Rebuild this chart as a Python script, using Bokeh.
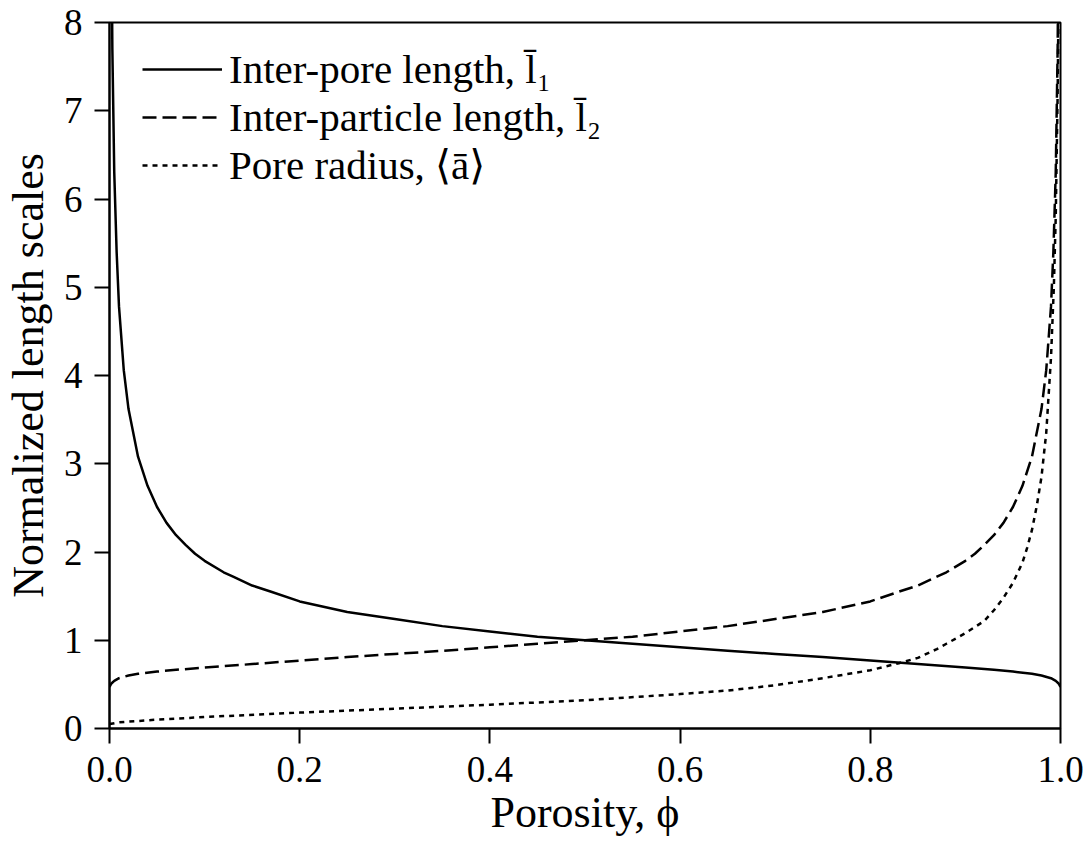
from bokeh.plotting import figure
from bokeh.models import Legend, LegendItem, FixedTicker, NumeralTickFormatter, Range1d
from bokeh.embed import file_html
from bokeh.resources import INLINE

# --- data ---
phi_l1 = [0.0015, 0.002, 0.003, 0.005, 0.0075, 0.01, 0.015, 0.02, 0.03, 0.04, 0.05, 0.06,
          0.07, 0.08, 0.09, 0.1, 0.12, 0.13, 0.15, 0.17, 0.2, 0.25, 0.3, 0.35, 0.4, 0.45,
          0.5, 0.55, 0.6, 0.65, 0.7, 0.75, 0.8, 0.85, 0.9, 0.93, 0.95, 0.97, 0.98, 0.99,
          0.995, 0.998, 1.0]
l1 = [10.0, 9.2, 7.7, 6.3, 5.4, 4.78, 4.06, 3.62, 3.08, 2.75, 2.51, 2.33,
      2.19, 2.08, 1.98, 1.90, 1.77, 1.72, 1.62, 1.55, 1.44, 1.32, 1.24, 1.16, 1.10, 1.04,
      1.00, 0.96, 0.92, 0.88, 0.845, 0.81, 0.77, 0.73, 0.69, 0.665, 0.645, 0.62, 0.60, 0.57,
      0.54, 0.51, 0.47]

phi_l2 = [0.0, 0.002, 0.005, 0.01, 0.02, 0.03, 0.05, 0.07, 0.1, 0.15, 0.2, 0.25, 0.3,
          0.35, 0.4, 0.45, 0.5, 0.55, 0.6, 0.65, 0.7, 0.75, 0.8, 0.83, 0.85, 0.87, 0.88,
          0.9, 0.91, 0.92, 0.93, 0.94, 0.95, 0.96, 0.97, 0.98, 0.985, 0.99, 0.9925, 0.995,
          0.997, 0.998, 0.9985]
l2 = [0.47, 0.51, 0.54, 0.57, 0.60, 0.62, 0.645, 0.665, 0.69, 0.73, 0.77, 0.81, 0.845,
      0.88, 0.92, 0.96, 1.00, 1.04, 1.10, 1.16, 1.24, 1.32, 1.44, 1.55, 1.62, 1.72, 1.77,
      1.90, 1.98, 2.08, 2.19, 2.33, 2.51, 2.75, 3.08, 3.62, 4.06, 4.78, 5.4, 6.3,
      7.7, 9.2, 10.0]

phi_a = [0.0, 0.01, 0.05, 0.1, 0.2, 0.3, 0.4, 0.5, 0.6, 0.65, 0.7, 0.75, 0.8, 0.83, 0.85,
         0.87, 0.88, 0.9, 0.91, 0.92, 0.93, 0.94, 0.95, 0.96, 0.965, 0.97, 0.975, 0.98,
         0.985, 0.99, 0.993, 0.995, 0.997, 0.998, 0.999]
a_mean = [0.05, 0.07, 0.10, 0.13, 0.18, 0.225, 0.27, 0.32, 0.39, 0.43, 0.49, 0.57, 0.66, 0.74,
          0.80, 0.90, 0.96, 1.08, 1.15, 1.22, 1.34, 1.48, 1.65, 1.88, 2.05, 2.25, 2.52, 2.85,
          3.35, 4.2, 5.0, 5.8, 7.2, 8.3, 10.0]

x_ticks = [0.0, 0.2, 0.4, 0.6, 0.8, 1.0]
y_ticks = [0, 1, 2, 3, 4, 5, 6, 7, 8]
labels = ["Inter-pore length, l\u0304\u2081",
          "Inter-particle length, l\u0304\u2082",
          "Pore radius, \u27e8\u0101\u27e9"]

FONT = "'Liberation Serif', 'DejaVu Serif', serif"

p = figure(width=1085, height=840, output_backend="svg", toolbar_location=None,
           x_range=Range1d(0, 1), y_range=Range1d(0, 8),
           min_border_left=107, min_border_right=25, min_border_top=22, min_border_bottom=112)
p.xgrid.visible = False
p.ygrid.visible = False
p.outline_line_color = "black"
p.outline_line_width = 2
p.outline_line_alpha = 1.0
p.background_fill_color = "white"

r1 = p.line(phi_l1, l1, line_color="black", line_width=2.5, line_join="round")
r2 = p.line(phi_l2, l2, line_color="black", line_width=2.5, line_dash="14 6", line_join="round")
r3 = p.line(phi_a, a_mean, line_color="black", line_width=2.5, line_dash="5 5", line_join="round")

for ax in (p.xaxis[0], p.yaxis[0]):
    ax.axis_line_width = 2
    ax.major_tick_line_width = 2
    ax.major_tick_out = 15
    ax.major_tick_in = 0
    ax.minor_tick_out = 0
    ax.minor_tick_in = 0
    ax.major_label_text_font = FONT
    ax.major_label_text_font_size = "37px"
    ax.major_label_text_color = "black"
    ax.axis_label_text_font = FONT
    ax.axis_label_text_font_size = "44px"
    ax.axis_label_text_font_style = "normal"
    ax.axis_label_text_color = "black"

p.xaxis.ticker = FixedTicker(ticks=x_ticks)
p.xaxis.formatter = NumeralTickFormatter(format="0.0")
p.yaxis.ticker = FixedTicker(ticks=y_ticks)
p.xaxis.axis_label = "Porosity, \u03d5"
p.yaxis.axis_label = "Normalized length scales"
p.xaxis.major_label_standoff = 13
p.xaxis.axis_label_standoff = 3
p.yaxis.major_label_standoff = 12
p.yaxis.axis_label_standoff = 8

legend = Legend(items=[LegendItem(label=labels[0], renderers=[r1]),
                       LegendItem(label=labels[1], renderers=[r2]),
                       LegendItem(label=labels[2], renderers=[r3])],
                location=(33, 539), margin=0, padding=0, spacing=-3,
                glyph_width=80, glyph_height=30, label_standoff=7,
                border_line_color=None, background_fill_alpha=0,
                label_text_font=FONT, label_text_font_size="41px",
                label_text_color="black")
p.add_layout(legend)

open("out.html", "w").write(file_html(p, INLINE))
